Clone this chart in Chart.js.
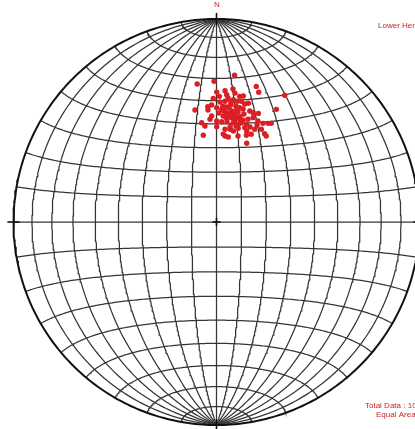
<!DOCTYPE html>
<html>
<head>
<meta charset="utf-8">
<script src="https://cdn.jsdelivr.net/npm/chart.js@4/dist/chart.umd.min.js"></script>
<style>
  html, body { margin: 0; padding: 0; background: #ffffff; overflow: hidden; }
  canvas { display: block; }
</style>
</head>
<body>
<canvas id="net" width="415" height="429"></canvas>
<script>
// Pole positions in net units (east, north); the primitive circle has radius 1.
const poleEast = [
  0.089, -0.095, -0.012, 0.196, 0.208, 0.042, 0.001, 0.081, 0.336, 0.014,
  0.050, 0.091, 0.114, 0.132, 0.083, 0.042, -0.016, 0.102, 0.122, 0.139,
  0.157, 0.070, 0.031, 0.096, -0.024, -0.043, 0.001, 0.050, 0.114, -0.106,
  0.026, 0.050, 0.075, 0.100, 0.164, 0.180, 0.295, 0.206, -0.024, 0.033,
  0.058, 0.091, 0.116, 0.135, 0.155, 0.180, -0.032, 0.001, 0.050, 0.091,
  0.083, 0.107, 0.026, -0.073, -0.057, 0.204, 0.229, 0.254, 0.270, 0.147,
  0.139, 0.067, 0.001, 0.042, 0.067, 0.083, 0.107, 0.188, 0.221, 0.149,
  -0.065, 0.042, 0.058, 0.033, 0.106, 0.147, 0.171, 0.237, 0.245, 0.149,
  0.116, 0.076, 0.062, 0.106, 0.131, 0.012, 0.071, 0.057, 0.121, 0.096,
  0.165, 0.017, -0.042, 0.200, 0.081, 0.052, 0.131, 0.067, 0.101, 0.037
];
const poleNorth = [
  0.723, 0.680, 0.693, 0.668, 0.639, 0.647, 0.640, 0.655, 0.624, 0.619,
  0.627, 0.635, 0.619, 0.621, 0.602, 0.595, 0.609, 0.595, 0.595, 0.581,
  0.585, 0.578, 0.570, 0.570, 0.576, 0.568, 0.563, 0.567, 0.563, 0.552,
  0.555, 0.538, 0.547, 0.555, 0.547, 0.538, 0.555, 0.535, 0.522, 0.522,
  0.532, 0.527, 0.519, 0.532, 0.506, 0.514, 0.506, 0.498, 0.511, 0.506,
  0.489, 0.481, 0.494, 0.489, 0.473, 0.498, 0.486, 0.486, 0.486, 0.481,
  0.465, 0.469, 0.469, 0.457, 0.457, 0.448, 0.462, 0.457, 0.457, 0.448,
  0.427, 0.424, 0.419, 0.433, 0.424, 0.427, 0.432, 0.435, 0.424, 0.388,
  0.502, 0.512, 0.562, 0.542, 0.557, 0.537, 0.591, 0.611, 0.488, 0.473,
  0.468, 0.591, 0.552, 0.478, 0.537, 0.493, 0.502, 0.517, 0.512, 0.547
];

const gridStepDeg = 10;
const northLabel = 'N';
const hemisphereLabel = 'Lower Hemisphere';
const projectionLabel = 'Equal Area';

// Lambert equal-area projection of a point on the net sphere (lat/lon in degrees),
// scaled so the primitive has radius 1.
function project(lat, lon) {
  const f = lat * Math.PI / 180, l = lon * Math.PI / 180;
  const x = Math.cos(f) * Math.sin(l);
  const y = Math.sin(f);
  const z = Math.cos(f) * Math.cos(l);
  const k = Math.sqrt(1 / (1 + z));
  return { x: x * k, y: y * k };
}

const gridColor = '#363636';
const gridWidth = 1.25;
const datasets = [];

// Great circles (meridians through N and S)
for (let lon = -90 + gridStepDeg; lon < 90; lon += gridStepDeg) {
  const pts = [];
  for (let lat = -90; lat <= 90; lat += 1) pts.push(project(lat, lon));
  datasets.push({ data: pts, showLine: true, pointRadius: 0, borderColor: gridColor, borderWidth: gridWidth, order: 2 });
}
// Small circles (parallels about the N-S axis)
for (let lat = -90 + gridStepDeg; lat < 90; lat += gridStepDeg) {
  const pts = [];
  for (let lon = -90; lon <= 90; lon += 1) pts.push(project(lat, lon));
  datasets.push({ data: pts, showLine: true, pointRadius: 0, borderColor: gridColor, borderWidth: gridWidth, order: 2 });
}
// Primitive circle
{
  const pts = [];
  for (let a = 0; a <= 360; a += 1) {
    const t = a * Math.PI / 180;
    pts.push({ x: Math.cos(t), y: Math.sin(t) });
  }
  datasets.push({ data: pts, showLine: true, pointRadius: 0, borderColor: '#111111', borderWidth: 2, order: 1 });
}
// Cardinal ticks and centre cross
const tickIn = 0.97, tickOut = 1.03, cross = 0.02;
const ticks = [
  [{ x: 0, y: tickIn }, { x: 0, y: tickOut }],
  [{ x: 0, y: -tickIn }, { x: 0, y: -tickOut }],
  [{ x: tickIn, y: 0 }, { x: tickOut, y: 0 }],
  [{ x: -tickIn, y: 0 }, { x: -tickOut, y: 0 }],
  [{ x: -cross, y: 0 }, { x: cross, y: 0 }],
  [{ x: 0, y: -cross }, { x: 0, y: cross }]
];
ticks.forEach(seg => datasets.push({ data: seg, showLine: true, pointRadius: 0, borderColor: '#111111', borderWidth: 1.6, order: 1 }));

// Poles
datasets.push({
  data: poleEast.map((e, i) => ({ x: e, y: poleNorth[i] })),
  pointRadius: 2.7,
  pointBackgroundColor: '#dc1f24',
  pointBorderWidth: 0,
  pointBorderColor: '#dc1f24',
  showLine: false,
  order: 0
});

// Net annotations
const labelPlugin = {
  id: 'netLabels',
  afterDraw(chart) {
    const { ctx, scales: { x, y } } = chart;
    ctx.save();
    ctx.fillStyle = '#c8262b';
    ctx.font = '8px "Liberation Sans", Arial, sans-serif';
    ctx.textBaseline = 'middle';
    ctx.textAlign = 'center';
    ctx.fillText(northLabel, x.getPixelForValue(0) + 0.5, y.getPixelForValue(1.07));
    ctx.textAlign = 'left';
    ctx.fillText(hemisphereLabel, 378, 26);
    ctx.fillText('Total Data : ' + poleEast.length, 365, 406);
    ctx.fillText(projectionLabel, 376, 415);
    ctx.restore();
  }
};

new Chart(document.getElementById('net'), {
  type: 'scatter',
  data: { datasets },
  options: {
    responsive: false,
    animation: false,
    layout: { padding: 0, autoPadding: false },
    plugins: { legend: { display: false }, tooltip: { enabled: false } },
    scales: {
      x: { type: 'linear', display: false, min: -216.5 / 203, max: (415 - 216.5) / 203 },
      y: { type: 'linear', display: false, min: -(429 - 222) / 203, max: 222 / 203 }
    },
    elements: { line: { tension: 0 } }
  },
  plugins: [labelPlugin]
});
</script>
</body>
</html>
